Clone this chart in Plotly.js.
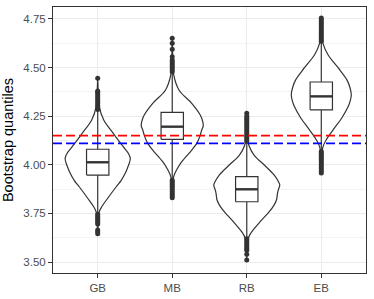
<!DOCTYPE html>
<html>
<head>
<meta charset="utf-8">
<script src="https://cdn.plot.ly/plotly-3.0.1.min.js"></script>
<style>html,body{margin:0;padding:0;background:#fff;}#chart{width:374px;height:299px;}</style>
</head>
<body>
<div id="chart"></div>
<script>
// ---- Data ----
var categories = ["GB", "MB", "RB", "EB"];

// Box statistics
var q1 = [3.947, 4.131, 3.810, 4.283];
var median = [4.013, 4.196, 3.874, 4.352];
var q3 = [4.080, 4.270, 3.939, 4.426];
var lowerFence = [3.748, 3.922, 3.622, 4.070];
var upperFence = [4.282, 4.476, 4.118, 4.632];

// Violin outlines: y values and relative density (half-width)
var gbViolinY = [4.445, 4.38, 4.30, 4.23, 4.162, 4.093, 4.06, 4.033, 4.00, 3.980, 3.956, 3.92, 3.887, 3.828, 3.784, 3.757, 3.70, 3.645];
var gbViolinD = [0, 0.5, 1.5, 6, 15.5, 25.5, 30.5, 32.6, 31, 29.5, 27.5, 23.5, 18.5, 10, 4, 1.5, 0.5, 0];
var mbViolinY = [4.656, 4.55, 4.462, 4.385, 4.316, 4.256, 4.222, 4.20, 4.179, 4.145, 4.11, 4.076, 4.016, 3.973, 3.94, 3.83];
var mbViolinD = [0, 0.5, 1.5, 6.7, 19.5, 28, 30.5, 31, 29.5, 27.5, 24.5, 19.5, 9.5, 4.3, 1.5, 0];
var rbViolinY = [4.265, 4.15, 4.102, 4.050, 3.999, 3.947, 3.91, 3.896, 3.870, 3.853, 3.819, 3.79, 3.759, 3.699, 3.648, 3.62, 3.51];
var rbViolinD = [0, 0.5, 2, 7.3, 17.5, 27.5, 32, 33, 31.5, 30.7, 29.7, 27, 22.5, 12, 4, 1.5, 0];
var ebViolinY = [4.755, 4.66, 4.627, 4.566, 4.498, 4.438, 4.40, 4.361, 4.33, 4.301, 4.241, 4.181, 4.129, 4.09, 3.958];
var ebViolinD = [0, 0.5, 1.5, 6.7, 17, 25.5, 28.5, 30, 29, 27, 20.5, 12, 5, 1.5, 0];

// Outliers
var gbOutliers = [4.285, 4.295, 4.305, 4.315, 4.325, 4.335, 4.345, 4.355, 4.365, 4.375, 4.38, 4.445,
                  3.745, 3.735, 3.725, 3.715, 3.705, 3.695, 3.665, 3.655, 3.645];
var mbOutliers = [4.479, 4.489, 4.499, 4.509, 4.519, 4.529, 4.539, 4.556, 4.594, 4.625, 4.651,
                  3.92, 3.91, 3.90, 3.89, 3.88, 3.87, 3.86, 3.85, 3.84, 3.83];
var rbOutliers = [4.12, 4.13, 4.14, 4.15, 4.16, 4.17, 4.18, 4.19, 4.20, 4.21, 4.22, 4.23, 4.24, 4.25, 4.265,
                  3.62, 3.61, 3.60, 3.59, 3.58, 3.57, 3.56, 3.54, 3.51];
var ebOutliers = [4.635, 4.645, 4.655, 4.665, 4.675, 4.685, 4.695, 4.705, 4.715, 4.725, 4.735, 4.745, 4.755,
                  4.069, 4.059, 4.049, 4.039, 4.029, 4.019, 4.009, 3.999, 3.989, 3.979, 3.968, 3.958];

// Reference lines
var redLine = 4.15;
var blueLine = 4.11;

// ---- Build traces ----
var DENS_SCALE = 1 / 74.5;
var BOX_W = 0.3;
var ink = "#333333";
var violins = [[gbViolinY, gbViolinD], [mbViolinY, mbViolinD], [rbViolinY, rbViolinD], [ebViolinY, ebViolinD]];
var outliers = [gbOutliers, mbOutliers, rbOutliers, ebOutliers];
var pos = categories.map(function (c, i) { return i + 1; });

var traces = [];
// violins
violins.forEach(function (v, i) {
  var ys = v[0], ds = v[1], c = pos[i];
  var x = [], y = [];
  for (var k = 0; k < ys.length; k++) { x.push(c - ds[k] * DENS_SCALE); y.push(ys[k]); }
  for (var k = ys.length - 1; k >= 0; k--) { x.push(c + ds[k] * DENS_SCALE); y.push(ys[k]); }
  traces.push({type: "scatter", mode: "lines", x: x, y: y, fill: "toself", fillcolor: "rgba(255,255,255,1)",
    line: {color: ink, width: 1.2, shape: "spline", smoothing: 1.0}, hoverinfo: "skip", showlegend: false});
});

// whiskers
var wx = [], wy = [];
pos.forEach(function (c, i) {
  wx.push(c, c, null, c, c, null);
  wy.push(lowerFence[i], q1[i], null, q3[i], upperFence[i], null);
});
traces.push({type: "scatter", mode: "lines", x: wx, y: wy, line: {color: ink, width: 1.2}, hoverinfo: "skip", showlegend: false});

// boxes
pos.forEach(function (c, i) {
  var l = c - BOX_W / 2, r = c + BOX_W / 2;
  traces.push({type: "scatter", mode: "lines", x: [l, r, r, l, l], y: [q1[i], q1[i], q3[i], q3[i], q1[i]],
    fill: "toself", fillcolor: "white", line: {color: ink, width: 1.2}, hoverinfo: "skip", showlegend: false});
});

// medians
var mx = [], my = [];
median.forEach(function (m, i) { mx.push(pos[i] - BOX_W / 2, pos[i] + BOX_W / 2, null); my.push(m, m, null); });
traces.push({type: "scatter", mode: "lines", x: mx, y: my, line: {color: ink, width: 2.4}, hoverinfo: "skip", showlegend: false});

// outliers
var ox = [], oy = [];
outliers.forEach(function (arr, i) { arr.forEach(function (v) { ox.push(pos[i]); oy.push(v); }); });
traces.push({type: "scatter", mode: "markers", x: ox, y: oy, marker: {color: ink, size: 5, line: {width: 0}},
  hoverinfo: "skip", showlegend: false});

var font = "Liberation Sans, Arial, Helvetica, sans-serif";
var layout = {
  width: 374, height: 299,
  margin: {l: 53, r: 8, t: 7, b: 26},
  paper_bgcolor: "white", plot_bgcolor: "white",
  showlegend: false,
  font: {family: font},
  xaxis: {
    range: [0.4, 4.6], tickmode: "array", tickvals: pos, ticktext: categories,
    showgrid: true, gridcolor: "#EBEBEB", gridwidth: 1, zeroline: false,
    showline: true, mirror: true, linecolor: ink, linewidth: 1,
    ticks: "outside", ticklen: 4, tickcolor: ink, tickwidth: 1,
    tickfont: {size: 11.5, color: "#4D4D4D", family: font}
  },
  yaxis: {
    range: [3.4434, 4.8117], tickmode: "array",
    tickvals: [3.5, 3.75, 4.0, 4.25, 4.5, 4.75], ticktext: ["3.50", "3.75", "4.00", "4.25", "4.50", "4.75"],
    showgrid: true, gridcolor: "#EBEBEB", gridwidth: 1, zeroline: false,
    minor: {tickmode: "array", tickvals: [3.625, 3.875, 4.125, 4.375, 4.625], showgrid: true, gridcolor: "#EBEBEB", gridwidth: 0.6, ticks: ""},
    showline: true, mirror: true, linecolor: ink, linewidth: 1,
    ticks: "outside", ticklen: 4, tickcolor: ink, tickwidth: 1,
    tickfont: {size: 11.5, color: "#4D4D4D", family: font},
    title: {text: "Bootstrap quantiles", font: {size: 14.5, color: "black", family: font}, standoff: 7}
  },
  shapes: [
    {type: "line", xref: "paper", x0: 0, x1: 1, yref: "y", y0: redLine, y1: redLine, line: {color: "#FF0000", width: 1.6, dash: "9px,4px"}, layer: "above"},
    {type: "line", xref: "paper", x0: 0, x1: 1, yref: "y", y0: blueLine, y1: blueLine, line: {color: "#0000FF", width: 1.6, dash: "9px,4px"}, layer: "above"}
  ]
};

Plotly.newPlot("chart", traces, layout, {displayModeBar: false, staticPlot: true});
</script>
</body>
</html>
